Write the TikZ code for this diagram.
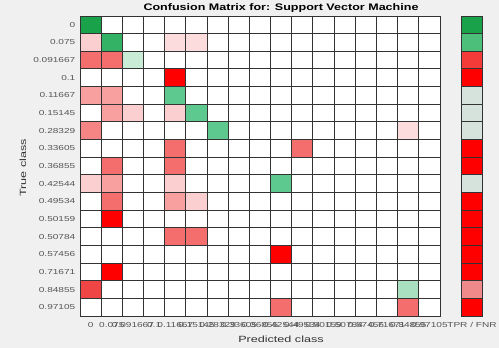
\documentclass[tikz,border=0pt]{standalone}
\usepackage{fontspec}
\setmainfont{Liberation Sans}
\newfontfamily\tickfont[FakeStretch=1.4]{Liberation Sans}
\newfontfamily\titlefont[FakeStretch=1.32]{Liberation Sans}

% palette of the heat map
\definecolor{figbg}{HTML}{F0F0F0}
\definecolor{gridc}{HTML}{333333}
\definecolor{tickc}{HTML}{555555}
\definecolor{gdark}{HTML}{1AA24A}
\definecolor{gmid}{HTML}{33B266}
\definecolor{gmed}{HTML}{5EC98E}
\definecolor{gpale}{HTML}{C8ECD6}
\definecolor{glite}{HTML}{A8E0C0}
\definecolor{rfull}{HTML}{FF0000}
\definecolor{rstrong}{HTML}{F04545}
\definecolor{rsalm}{HTML}{F56E6E}
\definecolor{rsalmb}{HTML}{F58585}
\definecolor{rpink}{HTML}{F8A0A0}
\definecolor{rlite}{HTML}{FBCFCF}
\definecolor{rpale}{HTML}{FCDCDC}
\definecolor{bgrey}{HTML}{D5E3DC}
\definecolor{bgreen}{HTML}{4CBF7B}
\definecolor{bred}{HTML}{F53A3A}
\definecolor{bpink}{HTML}{F08A8A}

\tikzset{
  cell/.style={draw=gridc, line width=0.9, fill=white, minimum width=21.176pt,
    minimum height=17.647pt, inner sep=0pt, outer sep=0pt},
  ticklab/.style={text=tickc, font=\tickfont\fontsize{7.2}{8}\selectfont, inner sep=0pt},
  axlab/.style={text=black!80, font=\tickfont\fontsize{9}{10}\selectfont, inner sep=0pt},
  titlelab/.style={text=black, font=\titlefont\bfseries\fontsize{9.5}{11}\selectfont, inner sep=0pt}
}

\begin{document}
\begin{tikzpicture}[x=1pt, y=-1pt]
  \useasboundingbox (0,0) rectangle (499,348);
  \fill[figbg] (0,0) rectangle (499,348);

  % empty matrix cells
  \foreach \r in {0,...,16} {
    \foreach \c in {0,...,16} {
      \node[cell] (m-\r-\c) at ({80+21.176*(\c+0.5)}, {16+17.647*(\r+0.5)}) {};
    }
  }

  % shaded cells: row / column / colour
  \foreach \r/\c/\col in {
      0/0/gdark,
      1/0/rlite, 1/1/gmid, 1/4/rpale, 1/5/rpale,
      2/0/rsalm, 2/1/rsalm, 2/2/gpale,
      3/4/rfull,
      4/0/rpink, 4/1/rpink, 4/4/gmed,
      5/1/rpink, 5/2/rlite, 5/4/rlite, 5/5/gmed,
      6/0/rsalmb, 6/6/gmed, 6/15/rpale,
      7/4/rsalm, 7/10/rsalm,
      8/1/rsalm, 8/4/rsalm,
      9/0/rlite, 9/1/rpink, 9/4/rlite, 9/9/gmed,
      10/1/rsalm, 10/4/rpink, 10/5/rlite,
      11/1/rfull,
      12/4/rsalm, 12/5/rsalm,
      13/9/rfull,
      14/1/rfull,
      15/0/rstrong, 15/15/glite,
      16/9/rsalm, 16/15/rsalm} {
    \node[cell, fill=\col] (s-\r-\c) at ({80+21.176*(\c+0.5)}, {16+17.647*(\r+0.5)}) {};
  }

  % TPR / FNR column
  \foreach \col [count=\i from 0] in {gdark, bgreen, bred, rfull, bgrey, bgrey, bgrey,
      rfull, rfull, bgrey, rfull, rfull, rfull, rfull, rfull, bpink, rfull} {
    \node[cell, fill=\col, minimum width=21.7pt] (b\i) at (472, {16+17.647*(\i+0.5)}) {};
  }

  % class labels on both axes
  \foreach \lab [count=\i from 0] in {0, 0.075, 0.091667, 0.1, 0.11667, 0.15145, 0.28329,
      0.33605, 0.36855, 0.42544, 0.49534, 0.50159, 0.50784, 0.57456, 0.71671, 0.84855, 0.97105} {
    \node[ticklab, anchor=east] (rl\i) at (75.5, {16+17.647*(\i+0.5)}) {\lab};
    \node[ticklab] (cl\i) at ({80+21.176*(\i+0.5)}, 325) {\lab};
  }
  \node[ticklab] (tprlab) at (472, 325) {TPR / FNR};

  % titles
  \node[titlelab] (title) at (281, 8.5) {Confusion Matrix for: Support Vector Machine};
  \node[axlab] (xlab) at (281, 339) {Predicted class};
  \node[axlab, rotate=90] (ylab) at (23, 168) {True class};
\end{tikzpicture}
\end{document}
